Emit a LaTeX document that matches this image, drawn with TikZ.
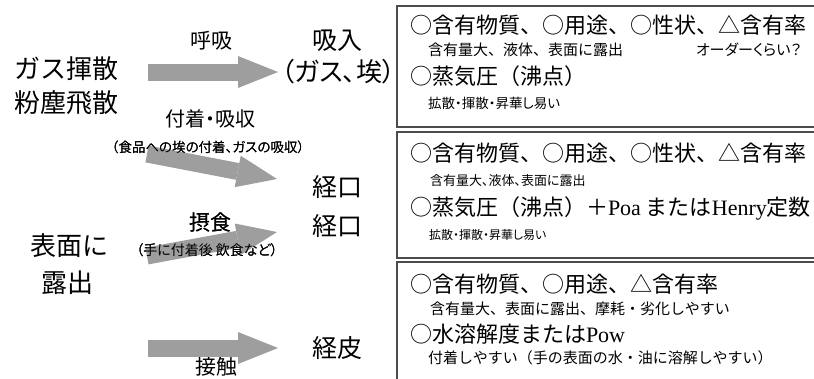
\documentclass[tikz,border=0pt]{standalone}
\usepackage{fontspec}
\newfontfamily\jp{Noto Sans CJK JP}
\newfontfamily\jpp[RawFeature=+palt]{Noto Sans CJK JP}
\newfontfamily\lser{Liberation Serif}
\usetikzlibrary{arrows.meta}
\newcommand{\fs}[1]{\fontsize{#1}{#1}\selectfont}
\begin{document}
\begin{tikzpicture}[x=1pt,y=-1pt,
  txt/.style={inner sep=0pt,outer sep=0pt,text=black},
  src/.style={txt,font=\jp\fs{26}},
  route/.style={txt,font=\jp\fs{25}},
  lab/.style={txt,font=\jp\fs{21}},
  note/.style={txt,font=\jpp\fs{13.5}},
  head/.style={txt,anchor=west,font=\jp\fs{22}},
  sub/.style={txt,anchor=west,font=\jp\fs{15}},
  subs/.style={txt,anchor=west,font=\jpp\fs{13.5}},
  subm/.style={txt,anchor=west,font=\jpp\fs{13}},
  subxs/.style={txt,anchor=west,font=\jpp\fs{12}},
  panel/.style={draw=black!70,line width=1.1pt},
  fat/.style={draw=black!38,line width=17pt,-{Triangle[length=40pt,width=32pt,line width=0pt]}}
]
\useasboundingbox (0,0) rectangle (814,378);
\fill[white] (0,0) rectangle (814,378);

% panels
\draw[panel] (397,6) rectangle (830,127);
\draw[panel] (397,132) rectangle (830,258);
\draw[panel] (397,262) rectangle (830,400);

% sources
\node[src] (gas) at (66.5,69) {ガス揮散};
\node[src] (dust) at (66.5,103) {粉塵飛散};
\node[src] (surf1) at (69,246) {表面に};
\node[src] (surf2) at (67.5,283) {露出};

% routes
\node[route] (inh) at (337.5,41) {吸入};
\node[txt,font=\jpp\fs{26}] (inh2) at (338.5,72) {（ガス、埃）};
\node[route] (oral1) at (337.5,187) {経口};
\node[route] (oral2) at (337.5,226) {経口};
\node[route] (derm) at (337.5,348) {経皮};

% arrow labels
\node[lab] (breath) at (211.5,41) {呼吸};
\node[txt,font=\jpp\fs{20}] (adh) at (210.5,119) {付着・吸収};
\node[note] (adhn) at (208,147) {（食品への埃の付着、ガスの吸収）};
\node[lab] (eat) at (210,223) {摂食};
\node[txt,font=\jpp\fs{14}] (eatn) at (207,250) {（手に付着後 飲食など）};
\node[lab] (touch) at (216,367) {接触};

% arrows
\coordinate (a1s) at (148,72);  \coordinate (a1e) at (278,72);
\coordinate (a2s) at (147,154); \coordinate (a2e) at (277,179);
\coordinate (a3s) at (147,256); \coordinate (a3e) at (277,232);
\coordinate (a4s) at (148,348); \coordinate (a4e) at (278,348);
\draw[fat] (a1s) -- (a1e);
\draw[fat] (a2s) -- (a2e);
\draw[fat] (a3s) -- (a3e);
\draw[fat] (a4s) -- (a4e);
% labels that lie over the arrows
\node[note] at (adhn) {（食品への埃の付着、ガスの吸収）};
\node[lab] at (eat) {摂食};
\node[txt,font=\jpp\fs{14}] at (eatn) {（手に付着後 飲食など）};

% panel 1
\node[head] (p1a) at (410,25) {○含有物質、○用途、○性状、△含有率};
\node[sub] (p1b) at (428,50) {含有量大、液体、表面に露出};
\node[sub,font=\jpp\fs{15}] (p1c) at (696,50) {オーダーくらい？};
\node[head] (p1d) at (410,76) {○蒸気圧（沸点）};
\node[subs] (p1e) at (428,103) {拡散・揮散・昇華し易い};

% panel 2
\node[head] (p2a) at (410,153) {○含有物質、○用途、○性状、△含有率};
\node[subm] (p2b) at (430,181) {含有量大、液体、表面に露出};
\node[head] (p2c) at (410,208) {○蒸気圧（沸点）＋{\lser Poa} または{\lser Henry}定数};
\node[subxs] (p2d) at (429,235) {拡散・揮散・昇華し易い};

% panel 3
\node[head] (p3a) at (410,284) {○含有物質、○用途、△含有率};
\node[sub] (p3b) at (430,309) {含有量大、表面に露出、摩耗・劣化しやすい};
\node[head] (p3c) at (410,334) {○水溶解度または{\lser Pow}};
\node[sub] (p3d) at (428,358) {付着しやすい（手の表面の水・油に溶解しやすい）};
\end{tikzpicture}
\end{document}
